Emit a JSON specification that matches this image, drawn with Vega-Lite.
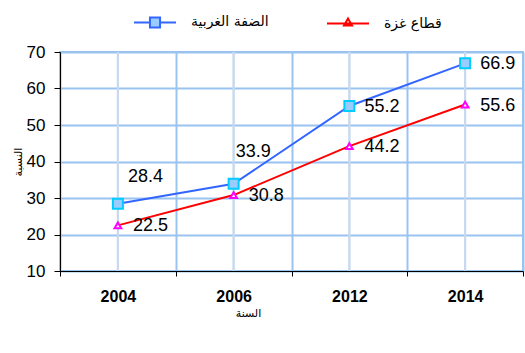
{
  "$schema": "https://vega.github.io/schema/vega-lite/v6.json",
  "width": 463,
  "height": 219,
  "autosize": {"type": "none"},
  "padding": {"left": 60, "top": 52, "right": 2, "bottom": 82},
  "background": "white",
  "config": {
    "view": {"stroke": "#99c4f0", "strokeWidth": 2},
    "font": "Liberation Sans"
  },
  "data": {
    "values": [
      {"year": "2004", "region": "الضفة الغربية", "value": 28.4},
      {"year": "2006", "region": "الضفة الغربية", "value": 33.9},
      {"year": "2012", "region": "الضفة الغربية", "value": 55.2},
      {"year": "2014", "region": "الضفة الغربية", "value": 66.9},
      {"year": "2004", "region": "قطاع غزة", "value": 22.5},
      {"year": "2006", "region": "قطاع غزة", "value": 30.8},
      {"year": "2012", "region": "قطاع غزة", "value": 44.2},
      {"year": "2014", "region": "قطاع غزة", "value": 55.6}
    ]
  },
  "encoding": {
    "x": {
      "field": "year", "type": "ordinal",
      "scale": {"paddingInner": 0, "paddingOuter": 0},
      "axis": {
        "title": "السنة", "titleFont": "DejaVu Sans", "titleFontSize": 11, "titleFontWeight": "normal",
        "titleColor": "black", "titlePadding": 3, "titleX": 188,
        "labelAngle": 0, "labelFontSize": 16, "labelFontWeight": "bold", "labelColor": "black",
        "labelPadding": 12, "tickSize": 5, "tickColor": "black", "domainColor": "black",
        "tickBand": "extent", "grid": true, "gridColor": "#99c4f0", "gridWidth": 2, "gridOpacity": 1
      }
    },
    "y": {
      "field": "value", "type": "quantitative",
      "scale": {"domain": [10, 70], "nice": false, "zero": false},
      "axis": {
        "title": "النسبة", "titleFont": "DejaVu Sans", "titleFontSize": 11, "titleFontWeight": "normal",
        "titleColor": "black", "titlePadding": 3,
        "values": [10, 20, 30, 40, 50, 60, 70],
        "labelFontSize": 17, "labelColor": "black", "labelPadding": 9,
        "tickSize": 6, "tickColor": "black", "domainColor": "black",
        "grid": true, "gridColor": "#99c4f0", "gridWidth": 2, "gridOpacity": 1
      }
    }
  },
  "layer": [
    {
      "mark": {"type": "rule", "color": "#c8d8ef", "strokeWidth": 2},
      "encoding": {"y": null}
    },
    {
      "mark": {"type": "line", "strokeWidth": 2},
      "encoding": {
        "color": {
          "field": "region", "type": "nominal",
          "scale": {"domain": ["الضفة الغربية", "قطاع غزة"], "range": ["#3366ff", "#ff0000"]},
          "legend": {
            "title": null, "orient": "none", "direction": "horizontal",
            "legendX": 73, "legendY": -52,
            "labelFont": "DejaVu Sans", "labelFontSize": 14, "labelColor": "black",
            "labelOffset": 14, "columnPadding": 54, "symbolSize": 1764, "symbolStrokeWidth": 2,
            "encode": {
              "symbols": {
                "update": {
                  "shape": {"signal": "datum.value === 'الضفة الغربية' ? 'M-1,0H-0.24M0.24,0H1M-0.24,-0.24H0.24V0.24H-0.24Z' : 'M-1,0H1M-0.19,0.1L0,-0.24L0.19,0.1Z'"},
                  "fill": {"signal": "datum.value === 'الضفة الغربية' ? '#99ccff' : 'white'"},
                  "strokeWidth": {"value": 2}
                }
              }
            }
          }
        }
      }
    },
    {
      "transform": [{"filter": "datum.region === 'الضفة الغربية'"}],
      "mark": {"type": "point", "shape": "square", "size": 100, "filled": true, "fill": "#99ccff", "stroke": "#00ccff", "strokeWidth": 2, "opacity": 1}
    },
    {
      "transform": [{"filter": "datum.region === 'قطاع غزة'"}],
      "mark": {"type": "point", "shape": "triangle-up", "size": 45, "filled": true, "fill": "white", "stroke": "#ff00ff", "strokeWidth": 2, "opacity": 1}
    },
    {
      "transform": [{"filter": "datum.value !== 28.4 && datum.value !== 33.9"}],
      "mark": {"type": "text", "align": "left", "baseline": "middle", "dx": 15, "dy": 1, "fontSize": 18, "color": "black"},
      "encoding": {"text": {"field": "value", "type": "quantitative", "format": ".1f"}}
    },
    {
      "transform": [{"filter": "datum.value === 28.4"}],
      "mark": {"type": "text", "align": "left", "baseline": "middle", "dx": 10, "dy": -27, "fontSize": 18, "color": "black"},
      "encoding": {"text": {"field": "value", "type": "quantitative", "format": ".1f"}}
    },
    {
      "transform": [{"filter": "datum.value === 33.9"}],
      "mark": {"type": "text", "align": "left", "baseline": "middle", "dx": 2, "dy": -32, "fontSize": 18, "color": "black"},
      "encoding": {"text": {"field": "value", "type": "quantitative", "format": ".1f"}}
    }
  ]
}
